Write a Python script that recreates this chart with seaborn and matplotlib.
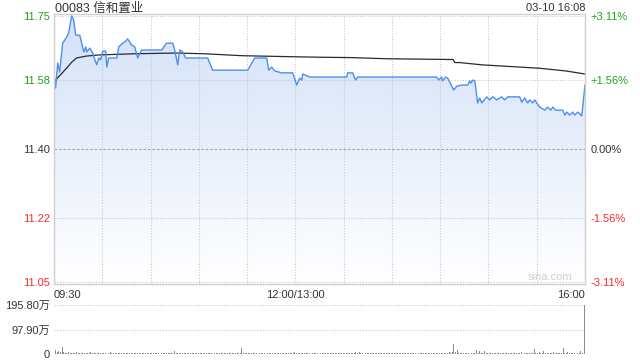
import numpy as np
import pandas as pd
import matplotlib
matplotlib.use("Agg")
import matplotlib.pyplot as plt
from matplotlib.colors import LinearSegmentedColormap
from matplotlib.patches import PathPatch
import seaborn as sns

# ---------------- data ----------------
title = "00083 信和置业"
stamp = "03-10 16:08"
prev_close = 11.40
y_ticks = [11.05, 11.22, 11.40, 11.58, 11.75]
y_tick_labels = ["11.05", "11.22", "11.40", "11.58", "11.75"]
pct_labels = ["-3.11%", "-1.56%", "0.00%", "+1.56%", "+3.11%"]
x_ticks_labeled = {0: "09:30", 150: "12:00/13:00", 330: "16:00"}
vol_ticks = [0, 97.9, 195.8]
vol_tick_labels = ["0", "97.90万", "195.80万"]

price_t = [0, 1, 2.3, 3.5, 5.4, 7.9, 9.1, 11, 12.2, 13.5, 16, 17.8, 18.5, 19.7, 20.3,
           22.2, 24, 26.5, 27.8, 29, 30.3, 32.1, 32.8, 34, 39, 40.2, 42.7, 43.9, 45.8,
           48.3, 50.2, 52, 54.5, 66.9, 70, 73.8, 75, 76.9, 78.1, 80, 81.8, 95.5, 98.6,
           120.4, 124.7, 132.2, 133.4, 135.3, 137.2, 141.5, 148.4, 150.8, 152.7, 154,
           154.6, 158.9, 181.9, 182.5, 185.6, 187.4, 188.7, 237.8, 239, 240.9, 241.5,
           243.4, 244.7, 248.4, 250.3, 253.4, 257.1, 258.4, 259, 260.2, 261.5, 263.3,
           264.6, 265.8, 268.9, 270.8, 272.7, 275.2, 278.2, 280.1, 282, 289.4, 290.7,
           292.5, 294.4, 295.6, 297.5, 298.8, 300, 301.9, 305, 306.8, 308.7, 310,
           311.8, 316.2, 317.4, 318.6, 320.5, 322.4, 323.6, 325.5, 327.4, 328, 330]
price_v = [11.597, 11.560, 11.626, 11.602, 11.678, 11.694, 11.705, 11.750, 11.739,
           11.699, 11.699, 11.668, 11.655, 11.668, 11.655, 11.665, 11.652, 11.621,
           11.639, 11.634, 11.657, 11.657, 11.615, 11.639, 11.639, 11.668, 11.678,
           11.681, 11.689, 11.673, 11.668, 11.639, 11.660, 11.660, 11.678, 11.678,
           11.660, 11.621, 11.660, 11.655, 11.639, 11.639, 11.607, 11.607, 11.639,
           11.639, 11.607, 11.615, 11.605, 11.600, 11.600, 11.568, 11.586, 11.581,
           11.597, 11.589, 11.589, 11.600, 11.600, 11.581, 11.589, 11.589, 11.581,
           11.589, 11.579, 11.589, 11.586, 11.555, 11.565, 11.568, 11.568, 11.579,
           11.573, 11.581, 11.579, 11.521, 11.534, 11.521, 11.537, 11.529, 11.537,
           11.529, 11.537, 11.529, 11.537, 11.537, 11.523, 11.534, 11.521, 11.529,
           11.521, 11.529, 11.521, 11.510, 11.502, 11.510, 11.502, 11.510, 11.502,
           11.502, 11.489, 11.497, 11.489, 11.497, 11.489, 11.497, 11.489, 11.487,
           11.568]

avg_t = [1, 8, 11, 14, 20, 28, 49, 76, 94, 117, 152, 166, 185, 207, 248, 249, 252,
         266, 302, 318, 330]
avg_v = [11.581, 11.613, 11.628, 11.639, 11.644, 11.647, 11.650, 11.652, 11.650,
         11.645, 11.642, 11.641, 11.640, 11.637, 11.635, 11.627, 11.627, 11.621,
         11.612, 11.605, 11.597]

volume = [12, 14, 9, 11, 6, 28, 8, 5, 4, 6, 3, 5, 4, 3, 6, 4, 5, 3, 4, 2, 5, 3, 4, 6, 3, 4, 5, 2, 3, 4,
          3, 5, 2, 4, 3, 6, 2, 3, 4, 2, 5, 3, 2, 4, 3, 5, 2, 3, 4, 2, 3, 5, 2, 4, 3, 2, 4, 3, 5, 2,
          4, 3, 2, 5, 3, 4, 2, 3, 2, 4, 3, 5, 2, 3, 4, 12, 3, 2, 4, 3, 5, 2, 3, 2, 4, 3, 2, 5, 3, 2,
          3, 4, 2, 3, 2, 5, 3, 2, 4, 3, 2, 3, 4, 2, 3, 2, 4, 3, 2, 5, 3, 2, 4, 3, 2, 3, 4, 24, 3, 2,
          4, 3, 2, 5, 3, 2, 4, 3, 2, 3, 4, 2, 3, 2, 5, 3, 2, 4, 3, 2, 3, 4, 2, 3, 5, 2, 3, 2, 4, 3,
          6, 4, 3, 2, 4, 3, 2, 5, 3, 2, 4, 3, 2, 3, 4, 2, 3, 5, 2, 3, 4, 2, 3, 2, 4, 3, 2, 5, 3, 2,
          3, 4, 2, 3, 2, 4, 3, 2, 8, 3, 6, 2, 3, 4, 2, 3, 2, 4, 3, 2, 3, 5, 2, 3, 4, 2, 3, 2, 4, 3,
          2, 3, 4, 2, 3, 2, 5, 3, 2, 4, 3, 2, 3, 4, 2, 3, 5, 2, 3, 2, 4, 3, 2, 3, 4, 2, 3, 2, 5, 3,
          4, 3, 5, 2, 3, 4, 6, 5, 7, 40, 8, 15, 4, 3, 5, 3, 4, 2, 3, 4, 3, 5, 4, 16, 5, 10, 3, 4, 10, 3,
          4, 3, 5, 2, 3, 4, 3, 2, 5, 3, 4, 3, 2, 4, 3, 5, 3, 4, 2, 3, 4, 6, 3, 2, 4, 3, 5, 3, 4, 20,
          4, 3, 8, 4, 3, 10, 4, 3, 5, 4, 3, 6, 4, 3, 5, 4, 3, 22, 4, 5, 6, 3, 4, 5, 3, 8, 4, 3, 10, 5,
          195.8]

# ---------------- style ----------------
sns.set_theme(style="white")
plt.rcParams["font.family"] = ["Liberation Sans", "Noto Sans CJK SC", "DejaVu Sans"]

GREEN = "#1fa31f"
RED = "#ff2a2a"
DARK = "#333333"
GRID = "#c9c9c9"
LINE = "#4f8ef0"

fig = plt.figure(figsize=(6.4, 3.6), dpi=100)
ax = fig.add_axes([54 / 640, 1 - 284 / 360, 531 / 640, 270 / 360])
axv = fig.add_axes([54 / 640, 1 - 354 / 360, 531 / 640, 49 / 360])

y_lo = prev_close * (1 - 0.0311)
y_hi = prev_close * (1 + 0.0311)
x_end = 330

price_df = pd.DataFrame({"t": price_t, "p": price_v})
avg_df = pd.DataFrame({"t": avg_t, "p": avg_v})

# gradient fill under the price line
poly = ax.fill_between(price_df["t"], price_df["p"], y_lo, color="none", lw=0)
cmap = LinearSegmentedColormap.from_list("fillg", ["#ffffff", "#d3e1f8"])
grad = np.linspace(0, 1, 256).reshape(-1, 1)
im = ax.imshow(grad, extent=[0, x_end, y_lo, y_hi], origin="lower", aspect="auto",
               cmap=cmap, zorder=1, interpolation="bilinear")
clip = PathPatch(poly.get_paths()[0], transform=ax.transData, facecolor="none",
                 edgecolor="none")
ax.add_patch(clip)
im.set_clip_path(clip)

sns.lineplot(data=price_df, x="t", y="p", ax=ax, color=LINE, lw=1.0, sort=False,
             estimator=None, zorder=4)
sns.lineplot(data=avg_df, x="t", y="p", ax=ax, color="#2a2a2a", lw=0.9, sort=False,
             estimator=None, zorder=3)

ax.set_xlim(0, x_end)
ax.set_ylim(y_lo, y_hi)
ax.set_xlabel("")
ax.set_ylabel("")

# x ticks / grid
xt = list(range(0, x_end + 1, 30))
ax.set_xticks(xt)
ax.set_xticklabels([x_ticks_labeled.get(v, "") for v in xt], fontsize=8, color=DARK)
for lab, v in zip(ax.get_xticklabels(), xt):
    if v == 0:
        lab.set_ha("left")
    elif v == x_end:
        lab.set_ha("right")
ax.tick_params(axis="x", length=0, pad=4)

# y ticks left
ax.set_yticks(y_ticks)
ax.set_yticklabels(y_tick_labels, fontsize=8)
cols = [RED, RED, DARK, GREEN, GREEN]
for lab, c in zip(ax.get_yticklabels(), cols):
    lab.set_color(c)
ax.tick_params(axis="y", length=0, pad=3)

ax.grid(True, color=GRID, lw=0.8, ls=(0, (1, 1.5)))
ygl = ax.get_ygridlines()
ygl[2].set_color("#a8a8a8")
ygl[2].set_linestyle((0, (2.5, 1.5)))
for g in ax.get_xgridlines():
    g.set_zorder(2)
ax.set_axisbelow(False)
for s in ax.spines.values():
    s.set_color("#d0d0d0")
    s.set_linewidth(1.0)
    s.set_zorder(5)

# right percent axis
axr = ax.twinx()
axr.set_ylim(y_lo, y_hi)
axr.set_yticks(y_ticks)
axr.set_yticklabels(pct_labels, fontsize=8)
for lab, c in zip(axr.get_yticklabels(), cols):
    lab.set_color(c)
axr.tick_params(axis="y", length=0, pad=4)
for s in axr.spines.values():
    s.set_visible(False)
axr.grid(False)

# header texts
fig.text(55 / 640, 1 - 3 / 360, title, ha="left", va="top", fontsize=9, color=DARK)
fig.text(585 / 640, 1 - 3 / 360, stamp, ha="right", va="top", fontsize=8, color=DARK)
ax.text(0.977, 0.008, "sina.com", transform=ax.transAxes, ha="right", va="bottom",
        fontsize=8, color="#cfcfcf")

# volume panel
vol_df = pd.DataFrame({"t": np.arange(len(volume)), "v": volume})
sns.barplot(data=vol_df, x="t", y="v", ax=axv, native_scale=True, width=0.6,
            color="#8a8a8a", saturation=1, linewidth=0)
axv.set_xlim(0, x_end + 0.6)
axv.set_ylim(0, vol_ticks[-1])
axv.set_yticks(vol_ticks)
axv.set_yticklabels(vol_tick_labels, fontsize=8, color=DARK)
axv.tick_params(axis="y", length=0, pad=3)
axv.set_xticks([])
axv.set_xlabel("")
axv.set_ylabel("")
for s in axv.spines.values():
    s.set_visible(False)
axv.yaxis.grid(True, color=GRID, lw=0.8, ls=(0, (1, 1.5)))
axv.get_ygridlines()[0].set_visible(False)
axv.set_axisbelow(True)

fig.savefig("out.png", dpi=100)
